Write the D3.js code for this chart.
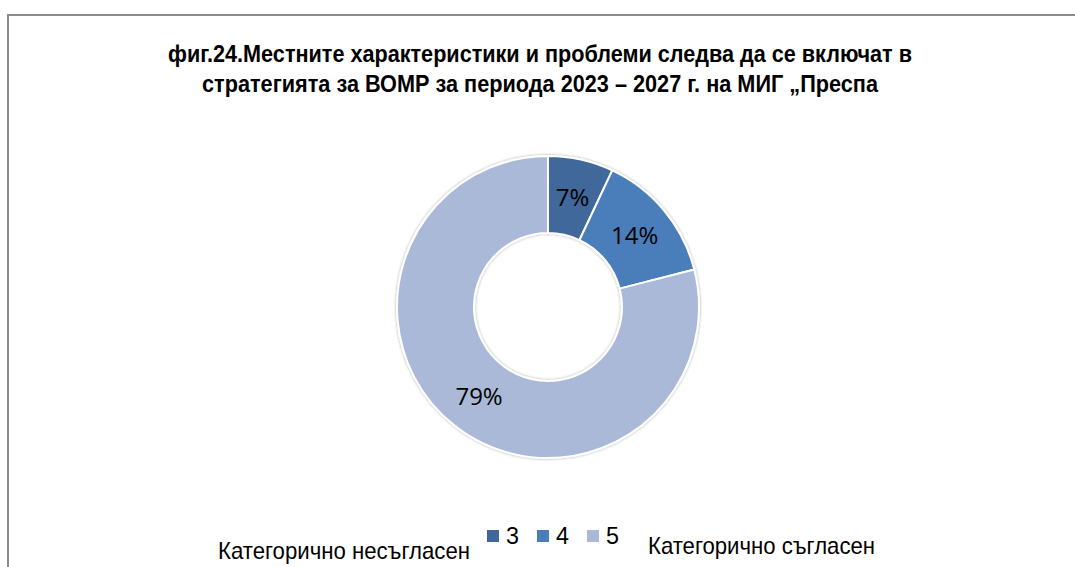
<!DOCTYPE html>
<html>
<head>
<meta charset="utf-8">
<script src="https://cdn.jsdelivr.net/npm/d3@7"></script>
<style>
  body { margin: 0; background: #fff; }
  .title { font-family: "Liberation Sans", Arial, sans-serif; font-weight: bold; font-size: 23px; fill: #000; }
  .lbl { font-family: "Open Sans", sans-serif; font-size: 24px; fill: #000; }
  .leg { font-family: "Liberation Sans", Arial, sans-serif; font-size: 24px; fill: #000; }
</style>
</head>
<body>
<div id="vis"></div>
<script>
// chart size
const FRAME_WIDTH = 1075;
const FRAME_HEIGHT = 567;

// data
const categories = ["3", "4", "5"];
const values = [7, 14, 79];
const colors = ["#41689b", "#4a7ebb", "#aab9d7"];
const titleLines = [
  "фиг.24.Местните характеристики и проблеми следва да се включат в",
  "стратегията за ВОМР за периода 2023 – 2027 г. на МИГ „Преспа"
];
const leftNote = "Категорично несъгласен";
const rightNote = "Категорично съгласен";

const CENTER = {x: 548, y: 307};
const R_OUT = 151;
const R_IN = 74;

const FRAME = d3.select("#vis")
  .append("svg")
    .attr("width", FRAME_WIDTH)
    .attr("height", FRAME_HEIGHT);

// chart border (runs off bottom/right like the source crop)
FRAME.append("rect")
  .attr("x", 8)
  .attr("y", 15)
  .attr("width", 1100)
  .attr("height", 600)
  .attr("fill", "none")
  .attr("stroke", "#8c8c8c")
  .attr("stroke-width", 2);

// title - narrow font squeezed with textLength
const titleWidths = [744, 676];
FRAME.selectAll(".title")
  .data(titleLines)
  .enter()
  .append("text")
    .attr("class", "title")
    .attr("x", 540)
    .attr("y", (d, i) => 62 + i * 30)
    .attr("text-anchor", "middle")
    .attr("textLength", (d, i) => titleWidths[i])
    .attr("lengthAdjust", "spacingAndGlyphs")
    .text(d => d);

// soft shadow
const defs = FRAME.append("defs");
const f = defs.append("filter").attr("id", "sh")
  .attr("x", "-10%").attr("y", "-10%").attr("width", "120%").attr("height", "120%");
f.append("feGaussianBlur").attr("in", "SourceAlpha").attr("stdDeviation", 1.5);
f.append("feComponentTransfer").append("feFuncA").attr("type", "linear").attr("slope", 0.35);
const m = f.append("feMerge");
m.append("feMergeNode");
m.append("feMergeNode").attr("in", "SourceGraphic");

const pie = d3.pie().sort(null).value(d => d);
const arc = d3.arc().innerRadius(R_IN).outerRadius(R_OUT);
const labelArc = d3.arc().innerRadius((R_IN + R_OUT) / 2).outerRadius((R_IN + R_OUT) / 2);
const COLOR = d3.scaleOrdinal().domain(categories).range(colors);

const g = FRAME.append("g")
  .attr("transform", "translate(" + CENTER.x + "," + CENTER.y + ")");

const arcs = pie(values);

g.append("g").attr("filter", "url(#sh)")
  .selectAll("path")
  .data(arcs)
  .enter()
  .append("path")
    .attr("d", arc)
    .attr("fill", (d, i) => COLOR(categories[i]))
    .attr("stroke", "#fff")
    .attr("stroke-width", 2);

g.selectAll(".lbl")
  .data(arcs)
  .enter()
  .append("text")
    .attr("class", "lbl")
    .attr("transform", d => "translate(" + labelArc.centroid(d) + ")")
    .attr("text-anchor", "middle")
    .attr("dy", "0.36em")
    .text(d => d.data + "%");

// legend
const LEG_X = d3.scalePoint().domain(categories).range([487, 587]);
const leg = FRAME.selectAll(".legitem")
  .data(categories)
  .enter()
  .append("g")
    .attr("transform", d => "translate(" + LEG_X(d) + ",530)");
leg.append("rect")
  .attr("width", 12)
  .attr("height", 12)
  .attr("fill", d => COLOR(d));
leg.append("text")
  .attr("class", "leg")
  .attr("x", 19)
  .attr("y", 14)
  .attr("textLength", 13)
  .attr("lengthAdjust", "spacingAndGlyphs")
  .text(d => d);

FRAME.append("text").attr("class", "leg")
  .attr("x", 218).attr("y", 559)
  .attr("textLength", 252).attr("lengthAdjust", "spacingAndGlyphs")
  .text(leftNote);
FRAME.append("text").attr("class", "leg")
  .attr("x", 648).attr("y", 554)
  .attr("textLength", 227).attr("lengthAdjust", "spacingAndGlyphs")
  .text(rightNote);
</script>
</body>
</html>
